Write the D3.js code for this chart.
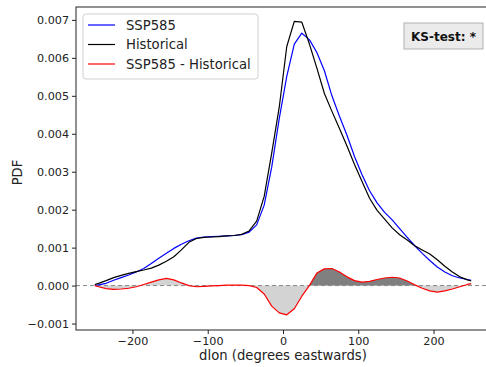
<!DOCTYPE html>
<html>
<head>
<meta charset="utf-8">
<script src="https://cdn.jsdelivr.net/npm/d3@7"></script>
<style>
  html, body { margin: 0; padding: 0; background: #fff; }
  svg { display: block; font-family: "DejaVu Sans", sans-serif; }
</style>
</head>
<body>
<svg id="chart" width="486" height="367"></svg>
<script>
// ---- data ----
const dlon = [-250, -245, -235, -225, -215, -205, -195, -185, -175, -165, -155, -145, -135, -125, -115, -105,
  -95, -85, -75, -65, -55, -45, -35, -25, -15, -5, 5, 15, 25, 35, 45, 55, 65, 75, 85, 95, 105, 115, 125, 135,
  145, 155, 165, 175, 185, 195, 205, 215, 225, 235, 245, 250];

const ssp585 = [0.00001, 0.00002, 0.00006, 0.00014, 0.00021, 0.00028, 0.00036, 0.00045, 0.00058, 0.00072,
  0.00085, 0.00098, 0.00109, 0.00118, 0.00125, 0.00128, 0.00129, 0.00130, 0.00131, 0.00132, 0.00134, 0.00141,
  0.00160, 0.00212, 0.00312, 0.00440, 0.00551, 0.00636, 0.00665, 0.00648, 0.00614, 0.00566, 0.00500, 0.00446,
  0.00396, 0.00340, 0.00292, 0.00250, 0.00218, 0.00193, 0.00173, 0.00150, 0.00127, 0.00105, 0.00085, 0.00066,
  0.00049, 0.00036, 0.00026, 0.00020, 0.00016, 0.00014];

const historical = [0.00003, 0.00006, 0.00013, 0.00021, 0.00027, 0.00032, 0.00037, 0.00041, 0.00046, 0.00054,
  0.00064, 0.00076, 0.00094, 0.00114, 0.00124, 0.00127, 0.00128, 0.00129, 0.00131, 0.00132, 0.00135, 0.00144,
  0.00170, 0.00235, 0.00349, 0.00470, 0.00630, 0.00696, 0.00694, 0.00637, 0.00573, 0.00506, 0.00459, 0.00414,
  0.00368, 0.00319, 0.00274, 0.00230, 0.00198, 0.00175, 0.00152, 0.00134, 0.00120, 0.00105, 0.00094, 0.00083,
  0.00068, 0.00051, 0.00036, 0.00023, 0.00015, 0.00012];

const difference = [0.0, -0.00003, -0.00008, -0.00010, -0.00009, -0.00007, -0.00003, 0.00003, 0.00009, 0.00015,
  0.00019, 0.00015, 0.00007, 0.0, -0.00003, -0.00002, -0.00001, 0.0, 0.00001, 0.00001, 0.00001, 0.0,
  -0.00005, -0.00022, -0.00054, -0.00072, -0.00077, -0.00061, -0.00028, 0.0, 0.00033, 0.00044, 0.00045, 0.00036,
  0.00023, 0.00013, 0.00009, 0.00011, 0.00016, 0.00020, 0.00022, 0.00020, 0.00012, 0.00002, -0.00007, -0.00014,
  -0.00017, -0.00014, -0.00009, -0.00003, 0.00003, 0.00005];

const significantRange = [35, 178];

const seriesNames = ["SSP585", "Historical", "SSP585 - Historical"];
const seriesColors = ["#0000ff", "#000000", "#ff0000"];

const yTicks = [-0.001, 0.000, 0.001, 0.002, 0.003, 0.004, 0.005, 0.006, 0.007];
const xTicks = [-200, -100, 0, 100, 200];
const xLabel = "dlon (degrees eastwards)";
const yLabel = "PDF";
const ksText = "KS-test: *";

// ---- layout ----
const svg = d3.select("#chart");
const pL = 76, pR = 490, pT = 7, pB = 330;

const x = d3.scaleLinear().domain([-275, 275]).range([pL, pR]);
const y = d3.scaleLinear().domain([-0.00117, 0.00734]).range([pB, pT]);

const fmtMinus = s => s.replace("-", "\u2212");

const pts = (arr) => dlon.map((d, i) => [d, arr[i]]);

// clip
const defs = svg.append("defs");
defs.append("clipPath").attr("id", "plotclip")
  .append("rect").attr("x", pL).attr("y", pT).attr("width", pR - pL).attr("height", pB - pT);
defs.append("clipPath").attr("id", "sigclip")
  .append("rect").attr("x", x(significantRange[0])).attr("y", pT)
  .attr("width", x(significantRange[1]) - x(significantRange[0])).attr("height", pB - pT);

const plot = svg.append("g").attr("clip-path", "url(#plotclip)");

const area = d3.area().x(d => x(d[0])).y0(y(0)).y1(d => y(d[1]));
plot.append("path").datum(pts(difference)).attr("d", area).attr("fill", "#d3d3d3");
plot.append("g").attr("clip-path", "url(#sigclip)")
  .append("path").datum(pts(difference)).attr("d", area).attr("fill", "#808080");

// zero dashed line
plot.append("line").attr("x1", pL).attr("x2", pR).attr("y1", y(0)).attr("y2", y(0))
  .attr("stroke", "#888").attr("stroke-width", 1).attr("stroke-dasharray", "4,3");

const line = d3.line().x(d => x(d[0])).y(d => y(d[1]));
[ssp585, historical, difference].forEach((arr, i) => {
  plot.append("path").datum(pts(arr)).attr("d", line)
    .attr("fill", "none").attr("stroke", seriesColors[i]).attr("stroke-width", 1.2)
    .attr("stroke-linejoin", "round");
});

// axes
const xAxis = d3.axisBottom(x).tickValues(xTicks).tickSize(4).tickPadding(3)
  .tickFormat(d => fmtMinus(String(d)));
const gx = svg.append("g").attr("transform", `translate(0,${pB})`).call(xAxis);
const yAxis = d3.axisLeft(y).tickValues(yTicks).tickSize(4).tickPadding(3)
  .tickFormat(d => fmtMinus(d.toFixed(3)));
const gy = svg.append("g").attr("transform", `translate(${pL},0)`).call(yAxis);

[gx, gy].forEach(g => {
  g.select(".domain").remove();
  g.selectAll("text").attr("font-size", 11.2).attr("fill", "#222")
    .attr("font-family", "DejaVu Sans, sans-serif");
  g.selectAll("line").attr("stroke", "#222");
});

// spines
svg.append("rect").attr("x", pL).attr("y", pT).attr("width", pR - pL).attr("height", pB - pT)
  .attr("fill", "none").attr("stroke", "#222").attr("stroke-width", 1);

// axis labels
svg.append("text").attr("x", x(0)).attr("y", 360).attr("text-anchor", "middle")
  .attr("font-size", 13.2).attr("fill", "#222").text(xLabel);
svg.append("text").attr("transform", `translate(22,${(pT + pB) / 2 + 4}) rotate(-90)`)
  .attr("text-anchor", "middle").attr("font-size", 13.2).attr("fill", "#222").text(yLabel);

// legend
const lg = svg.append("g");
lg.append("rect").attr("x", 83).attr("y", 14).attr("width", 175).attr("height", 65)
  .attr("rx", 3).attr("fill", "#fff").attr("fill-opacity", 0.85).attr("stroke", "#d0d0d0");
seriesNames.forEach((name, i) => {
  const yy = 25 + i * 19.5;
  lg.append("line").attr("x1", 88).attr("x2", 115).attr("y1", yy).attr("y2", yy)
    .attr("stroke", seriesColors[i]).attr("stroke-width", 1.2);
  lg.append("text").attr("x", 126).attr("y", yy + 4.7).attr("font-size", 13.2).attr("fill", "#222").text(name);
});

// KS-test box
svg.append("rect").attr("x", 404).attr("y", 23).attr("width", 79).attr("height", 26)
  .attr("fill", "#ebebeb").attr("stroke", "#b0b0b0").attr("stroke-width", 1);
svg.append("text").attr("x", 443.5).attr("y", 40.5).attr("text-anchor", "middle")
  .attr("font-size", 12).attr("font-weight", "bold").attr("fill", "#111").text(ksText);
</script>
</body>
</html>
